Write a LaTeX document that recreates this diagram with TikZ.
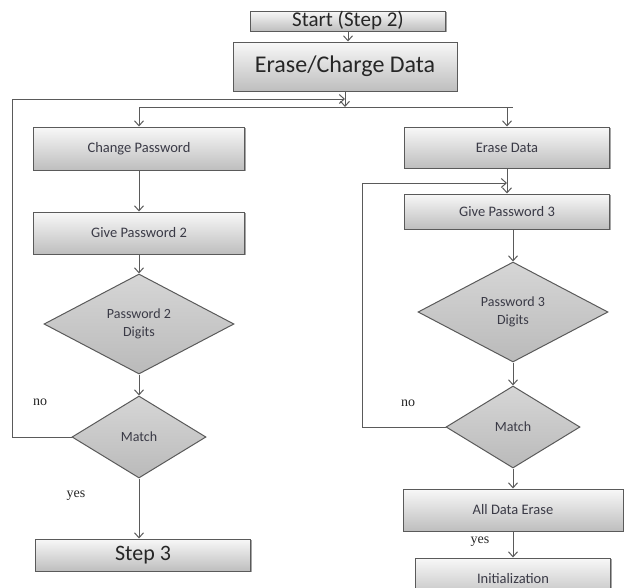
\documentclass[tikz,border=0pt]{standalone}
\usepackage{fontspec}
\setmainfont{Carlito}
\newfontfamily\labelfont{Liberation Serif}
\usepackage{xcolor}
\usetikzlibrary{arrows.meta,positioning,shapes.geometric,shadows}
\definecolor{edgegray}{HTML}{5A5A5A}
\definecolor{boxtop}{HTML}{F8F8F8}
\definecolor{boxbot}{HTML}{BEBEBE}
\definecolor{diatop}{HTML}{D6D6D6}
\definecolor{diabot}{HTML}{BABABA}
\definecolor{textgray}{HTML}{3A3A46}

\begin{document}
\begin{tikzpicture}[
  x=1pt,y=1pt,
  stepbox/.style={draw=edgegray,line width=1pt,top color=boxtop,bottom color=boxbot,inner sep=0pt,
    text=textgray,font=\fontsize{14.5}{17}\selectfont,
    drop shadow={shadow xshift=1.2pt,shadow yshift=-1.2pt,fill=black!70,opacity=.5}},
  titlebox/.style={stepbox,text=black!85},
  decision/.style={diamond,draw=edgegray,line width=1pt,top color=diatop,bottom color=diabot,
    inner sep=0pt,align=center,text=textgray,font=\fontsize{14}{18}\selectfont},
  wire/.style={draw=edgegray,line width=1pt},
  arr/.style={wire,-{Straight Barb[length=5pt,width=9pt]}},
  lbl/.style={font=\labelfont\fontsize{14}{16}\selectfont,text=black!85}
]
\useasboundingbox (0,0) rectangle (624,-587);

\node[titlebox,minimum width=195pt,minimum height=20pt,font=\fontsize{21}{22}\selectfont] (start) at (348,-21) {Start (Step 2)};
\node[titlebox,minimum width=224pt,minimum height=49pt,font=\fontsize{24}{26}\selectfont] (erase) at (345,-66.5) {Erase/Charge Data};

\node[stepbox,minimum width=211pt,minimum height=43pt] (cp) at (139,-148.5) {Change Password};
\node[stepbox,minimum width=211pt,minimum height=42pt] (gp2) [below=41pt of cp] {Give Password 2};
\node[decision,minimum width=190pt,minimum height=100pt] (d2) [below=19pt of gp2] {Password 2\\Digits};
\node[decision,minimum width=134pt,minimum height=82pt] (m2) [below=21pt of d2] {Match};
\node[titlebox,minimum width=215pt,minimum height=32pt,font=\fontsize{22}{24}\selectfont] (step3) [below=60pt of m2,xshift=4pt] {Step 3};

\node[stepbox,minimum width=205pt,minimum height=41pt] (ed) at (507,-147.5) {Erase Data};
\node[stepbox,minimum width=205pt,minimum height=35pt] (gp3) [below=25pt of ed] {Give Password 3};
\node[decision,minimum width=190pt,minimum height=100pt] (d3) [below=32pt of gp3,xshift=6pt] {Password 3\\Digits};
\node[decision,minimum width=134pt,minimum height=82pt] (m3) [below=23pt of d3] {Match};
\node[stepbox,minimum width=220pt,minimum height=42pt] (ade) [below=20pt of m3] {All Data Erase};
\node[stepbox,minimum width=195pt,minimum height=42pt] (init) [below=26pt of ade] {Initialization};

\node[lbl] (no2) at (40,-402) {no};
\node[lbl] (yes2) at (76,-496) {yes};
\node[lbl] (no3) at (408,-403) {no};
\node[lbl] (yes3) at (480,-542) {yes};

\coordinate (splitl) at (139,-107);
\coordinate (splitr) at (513,-107);
\coordinate (loopl) at (12,-99);
\coordinate (loopr) at (362,-183);

\draw[arr] (start) -- (start |- erase.north);
\draw[arr] (erase) -- (erase |- splitl);
\draw[wire] (splitl) -- (splitr);
\draw[arr] (splitl) -- (cp);
\draw[arr] (ed |- splitr) -- (ed);

\draw[arr] (cp) -- (gp2);
\draw[arr] (gp2) -- (d2);
\draw[arr] (d2) -- (m2);
\draw[arr] (m2) -- (m2 |- step3.north);
\draw[arr] (m2.west) -| (loopl) -- (loopl -| erase);

\draw[arr] (ed) -- (gp3);
\draw[arr] (gp3.south -| d3) -- (d3);
\draw[arr] (d3) -- (m3);
\draw[arr] (m3) -- (ade);
\draw[arr] (ade) -- (init);
\draw[arr] (m3.west) -| (loopr) -- (loopr -| ed);
\end{tikzpicture}
\end{document}
